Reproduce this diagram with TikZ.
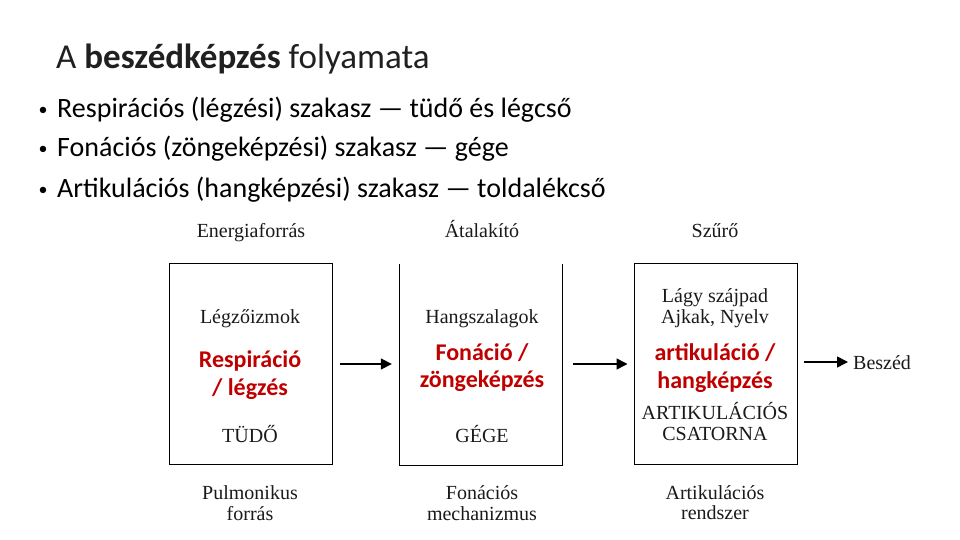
\documentclass[tikz,border=0pt]{standalone}
\usepackage{fontspec}
\setmainfont{Carlito}
\newfontfamily\serifbook{Liberation Serif}
\usetikzlibrary{arrows.meta}
\definecolor{redtxt}{HTML}{C00000}
\definecolor{graytxt}{HTML}{1A1A1A}
\definecolor{titletxt}{HTML}{202020}
\tikzset{
  lbl/.style={anchor=base, inner sep=0pt, text=graytxt, font=\serifbook\fontsize{20}{24}\selectfont},
  red/.style={anchor=base, inner sep=0pt, text=redtxt, font=\bfseries\fontsize{24}{29}\selectfont},
  bul/.style={anchor=base west, inner sep=0pt, font=\fontsize{28}{34}\selectfont},
  dot/.style={anchor=base, inner sep=0pt, font=\fontsize{18}{22}\selectfont},
  boxnode/.style={minimum width=163pt, minimum height=201pt, inner sep=0pt},
  conn/.style={line width=1.5pt, -{Triangle[length=11pt,width=11pt]}}
}
\begin{document}
\begin{tikzpicture}[x=1pt,y=-1pt]
\useasboundingbox (0,0) rectangle (960,540);
\fill[white] (0,0) rectangle (960,540);
% title
\node[anchor=base west, inner sep=0pt, text=titletxt, font=\fontsize{35}{42}\selectfont] (title) at (56,69) {A \textbf{beszédképzés} folyamata};
% bullets
\node[bul] (b1) at (57,118) {Respirációs (légzési) szakasz — tüdő és légcső};
\node[bul] (b2) at (57,157) {Fonációs (zöngeképzési) szakasz — gége};
\node[bul] (b3) at (57,197) {Artikulációs (hangképzési) szakasz — toldalékcső};
\node[dot] (d1) at (43,116) {•};
\node[dot] (d2) at (43,155) {•};
\node[dot] (d3) at (43,195) {•};
% boxes
\node[boxnode, draw, line width=1pt] (box1) at (250.5,363.5) {};
\node[boxnode, minimum width=162pt] (box2) at (481,364.5) {};
\draw[line width=1pt] (box2.north west) -- (box2.south west) -- (box2.south east) -- (box2.north east);
\node[boxnode, draw, line width=1pt] (box3) at (715.5,363.5) {};
% headers
\node[lbl] (h1) at (251,237) {Energiaforrás};
\node[lbl] (h2) at (482,237) {Átalakító};
\node[lbl] (h3) at (715,237) {Szűrő};
% box 1 content
\node[lbl] (l1) at (250,323) {Légzőizmok};
\node[red] (r1a) at (250,367) {Respiráció};
\node[red] (r1b) at (250,395) {/ légzés};
\node[lbl] (t1) at (250,442) {TÜDŐ};
% box 2 content
\node[lbl] (l2) at (482,323) {Hangszalagok};
\node[red] (r2a) at (482,360) {Fonáció /};
\node[red] (r2b) at (482,387) {zöngeképzés};
\node[lbl] (t2) at (482,442) {GÉGE};
% box 3 content
\node[lbl] (l3a) at (715,302) {Lágy szájpad};
\node[lbl] (l3b) at (715,323) {Ajkak, Nyelv};
\node[red] (r3a) at (715,360) {artikuláció /};
\node[red] (r3b) at (715,388) {hangképzés};
\node[lbl] (t3a) at (715,419) {ARTIKULÁCIÓS};
\node[lbl] (t3b) at (715,440) {CSATORNA};
% bottom labels
\node[lbl] (f1a) at (250,499) {Pulmonikus};
\node[lbl] (f1b) at (250,520) {forrás};
\node[lbl] (f2a) at (482,499) {Fonációs};
\node[lbl] (f2b) at (482,520) {mechanizmus};
\node[lbl] (f3a) at (715,499) {Artikulációs};
\node[lbl] (f3b) at (715,519) {rendszer};
% output
\node[lbl, anchor=base west] (out) at (853,369) {Beszéd};
% connectors
\draw[conn, shorten <=7pt, shorten >=8pt] (box1.east |- 0,364) -- (box2.west |- 0,364);
\draw[conn, shorten <=11pt, shorten >=6pt] (box2.east |- 0,364) -- (box3.west |- 0,364);
\coordinate (outw) at (out.west |- 0,362);
\draw[conn, shorten <=6pt, shorten >=5pt] (box3.east |- 0,362) -- (outw);
\end{tikzpicture}
\end{document}
